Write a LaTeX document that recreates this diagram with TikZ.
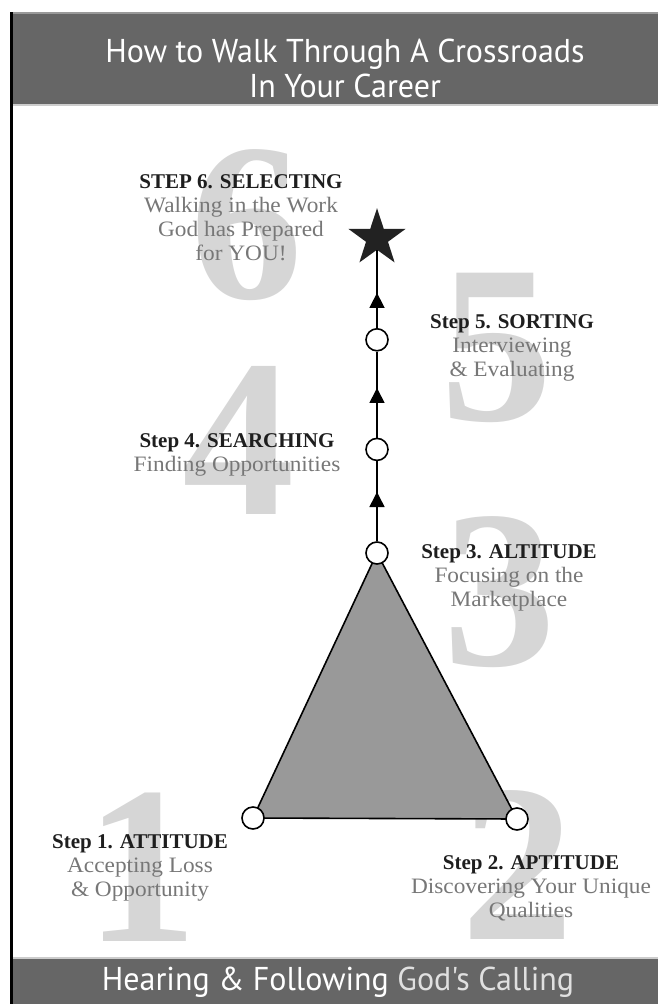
\documentclass[tikz,border=0pt]{standalone}
\usepackage{fontspec}
\setmainfont{Liberation Serif}
\newfontfamily\bandfont[FakeStretch=0.97]{PT Sans}
\newfontfamily\subfont[FakeStretch=1.06]{Liberation Serif}
\usetikzlibrary{positioning,shapes.geometric,arrows.meta,decorations.markings}

\definecolor{bandgray}{HTML}{666666}
\definecolor{edgegray}{HTML}{999999}
\definecolor{rulegray}{HTML}{CCCCCC}
\definecolor{numgray}{HTML}{D6D6D6}
\definecolor{trigray}{HTML}{999999}
\definecolor{stargray}{HTML}{222222}
\definecolor{headgray}{HTML}{1E1E1E}
\definecolor{subgray}{HTML}{777777}

\newcommand{\stephead}[1]{{\bfseries\color{headgray}#1}}
\newcommand{\stepsub}[1]{{\subfont\fontsize{22}{24}\selectfont\color{subgray}#1}}

\tikzset{
  numeral/.style={text=numgray, inner sep=0pt, font=\bfseries\fontsize{225}{225}\selectfont},
  stepdot/.style={circle, draw, line width=1.6pt, fill=white, minimum size=22pt, inner sep=0pt},
  goal/.style={star, star points=5, star point ratio=2.6, fill=stargray, minimum size=60pt, inner sep=0pt},
  link/.style={line width=1.6pt, postaction={decorate, decoration={markings,
      mark=at position #1 with {\arrow{Triangle[width=15pt,length=15pt]}}}}},
  steplabel/.style={align=center, inner sep=0pt, font=\fontsize{21}{24}\selectfont},
  bandtext/.style={text=white, inner sep=0pt, font=\bandfont\fontsize{33}{35}\selectfont, align=center}
}

\begin{document}
\begin{tikzpicture}[x=1pt,y=-1pt]
	\useasboundingbox (0,0) rectangle (658,1004);
	
	% frame and bands
	\fill[black] (10,12) rectangle (13,1004);
	\fill[bandgray] (13,12) rectangle (658,104);
	\fill[edgegray] (13,12) rectangle (658,14);
	\fill[rulegray] (13,104) rectangle (658,106);
	\fill[rulegray] (13,957) rectangle (658,959);
	\fill[bandgray] (13,959) rectangle (658,1004);
	
	\node[bandtext] (title) at (345,68) {How to Walk Through A Crossroads\\In Your Career};
	\node[bandtext] (calling) at (338,982) {Hearing \& Following \textcolor{white!88!black}{God's Calling}};
	
	% big step numbers
	\node[numeral] (n1) at (142,867) {1};
	\node[numeral] (n2) at (518,865) {2};
	\node[numeral] (n3) at (500,592) {3};
	\node[numeral] (n4) at (239,440) {4};
	\node[numeral] (n5) at (497,348) {5};
	\node[numeral] (n6) at (247,225) {6};
	
	% base triangle
	\coordinate (c1) at (253,818);
	\coordinate (c2) at (517,819);
	\coordinate (c3) at (377,553);
	\filldraw[fill=trigray, line width=1.6pt, line join=round] (c1) -- (c2) -- (c3) -- cycle;
	
	\node[stepdot] (s1) at (c1) {};
	\node[stepdot] (s2) at (c2) {};
	\node[stepdot] (s3) at (c3) {};
	\node[stepdot, above=80pt of s3] (s4) {};
	\node[stepdot, above=86pt of s4] (s5) {};
	\node[goal, above=78pt of s5] (s6) {};
	
	\draw[link=0.615] (s3) -- (s4);
	\draw[link=0.577] (s4) -- (s5);
	\draw[link=0.45] (s5) -- (s6);
	
	% step texts
	\node[steplabel] (l1) at (140,868) {\stephead{Step 1. ATTITUDE}\\\stepsub{Accepting Loss}\\\stepsub{\& Opportunity}};
	\node[steplabel] (l2) at (531,888) {\stephead{Step 2. APTITUDE}\\\stepsub{Discovering Your Unique}\\\stepsub{Qualities}};
	\node[steplabel] (l3) at (509,578) {\stephead{Step 3. ALTITUDE}\\\stepsub{Focusing on the}\\\stepsub{Marketplace}};
	\node[steplabel] (l4) at (237,455) {\stephead{Step 4. SEARCHING}\\\stepsub{Finding Opportunities}};
	\node[steplabel] (l5) at (512,348) {\stephead{Step 5. SORTING}\\\stepsub{Interviewing}\\\stepsub{\& Evaluating}};
	\node[steplabel] (l6) at (241,218) {\stephead{STEP 6. SELECTING}\\\stepsub{Walking in the Work}\\\stepsub{God has Prepared}\\\stepsub{for YOU!}};
	
\end{tikzpicture}
\end{document}
